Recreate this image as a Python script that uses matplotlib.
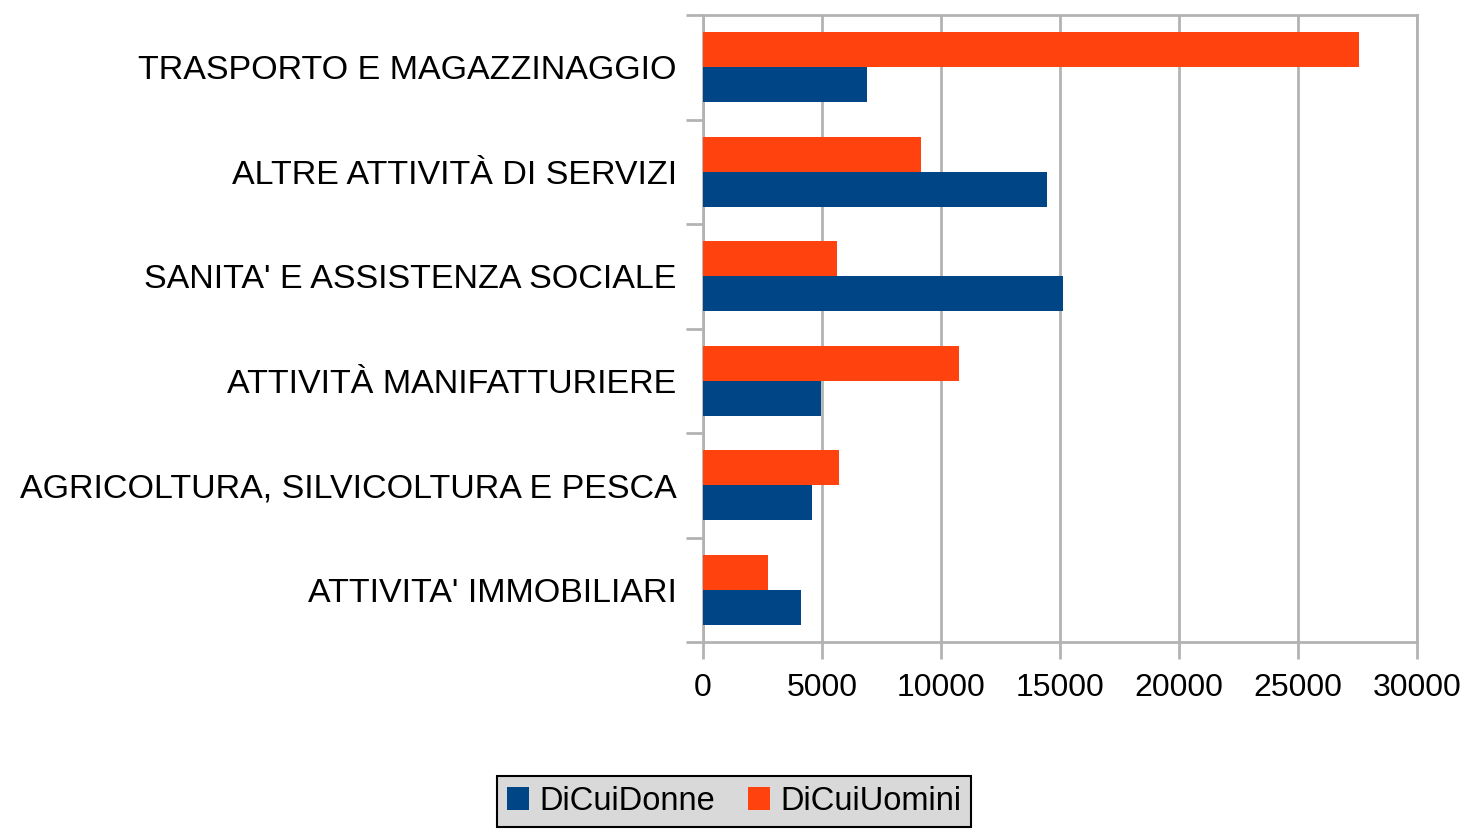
import numpy as np
import matplotlib
matplotlib.use("Agg")
import matplotlib.pyplot as plt

plt.rcParams['font.family'] = ['Liberation Sans', 'DejaVu Sans']

# categories listed bottom to top (as drawn)
settori = ["ATTIVITA' IMMOBILIARI",
           "AGRICOLTURA, SILVICOLTURA E PESCA",
           "ATTIVITÀ MANIFATTURIERE",
           "SANITA' E ASSISTENZA SOCIALE",
           "ALTRE ATTIVITÀ DI SERVIZI",
           "TRASPORTO E MAGAZZINAGGIO"]
donne = [4100, 4590, 4950, 15120, 14450, 6900]
uomini = [2720, 5710, 10740, 5640, 9150, 27550]

blu = "#004586"
arancio = "#ff420e"
grigio = "#b3b3b3"

fig = plt.figure(figsize=(14.68, 8.34), dpi=100)
ax = fig.add_axes([0.4789, 0.2302, 0.4864, 0.7518])

y = np.arange(len(settori))
h = 0.335
ax.barh(y - h / 2, donne, height=h, color=blu, label="DiCuiDonne", zorder=3)
ax.barh(y + h / 2, uomini, height=h, color=arancio, label="DiCuiUomini", zorder=3)

ax.set_xlim(0, 30000)
ax.set_ylim(-0.5, len(settori) - 0.5)
ax.set_xticks(np.arange(0, 30001, 5000))
ax.set_yticks(y)
ax.set_yticklabels(settori)
ax.set_yticks(np.arange(-0.5, len(settori), 1.0), minor=True)

ax.grid(axis="x", color=grigio, linewidth=2, zorder=0)
for s in ax.spines.values():
    s.set_color(grigio)
    s.set_linewidth(2)

ax.tick_params(axis="y", which="major", length=0, pad=19, labelsize=24.5)
ax.tick_params(axis="y", which="minor", length=12, width=2, color=grigio)
ax.tick_params(axis="x", length=12, width=2, color=grigio, labelsize=23, pad=10)

leg = fig.legend(loc="upper center", bbox_to_anchor=(0.5, 1 - 776 / 834),
                 ncol=2, fontsize=23.5, frameon=True, fancybox=False,
                 handlelength=0.7, handleheight=0.7, handletextpad=0.3,
                 columnspacing=1.0, borderpad=0.3, borderaxespad=0)
leg.get_frame().set_facecolor("#d9d9d9")
leg.get_frame().set_edgecolor("black")
leg.get_frame().set_linewidth(1.5)
leg.get_frame().set_alpha(1)

fig.savefig("out.png", dpi=100)
